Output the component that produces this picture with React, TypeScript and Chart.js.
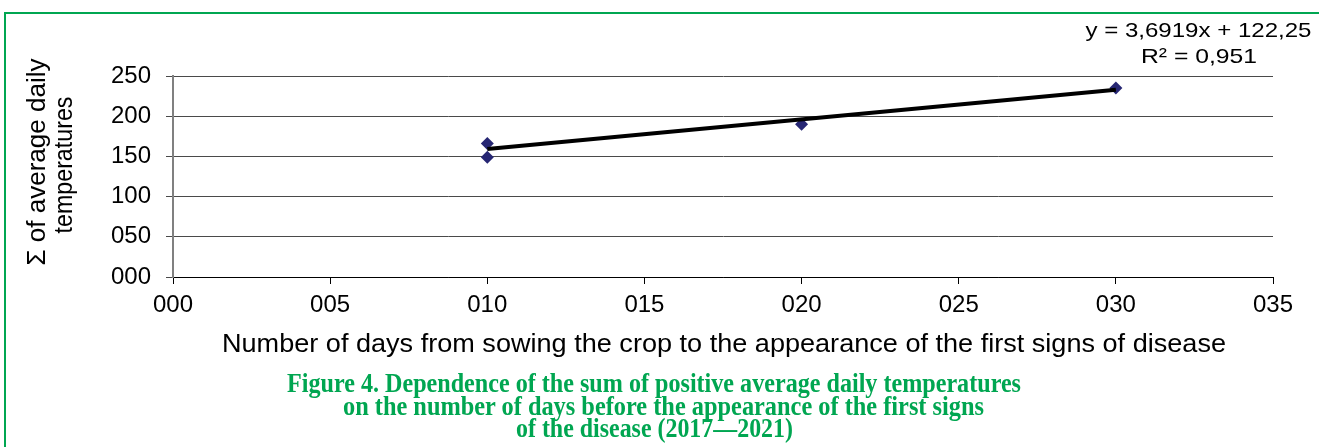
import React, { useEffect, useRef } from "react";
import { Chart, registerables } from "chart.js";

Chart.register(...registerables);

// ---- data ----
const daysX = [10, 10, 20, 30];
const tempSumY = [166, 149, 190, 235];
const trendX = [10, 30];
const trendY = [159.2, 233.0];
const xTickValues = [0, 5, 10, 15, 20, 25, 30, 35];
const xTickLabels = ["000", "005", "010", "015", "020", "025", "030", "035"];
const yTickValues = [0, 50, 100, 150, 200, 250];
const yTickLabels = ["000", "050", "100", "150", "200", "250"];
const equationLines = ["y = 3,6919x + 122,25", "R² = 0,951"];
const yTitleLines = ["Σ of average daily", "temperatures"];
const xTitle =
  "Number of days from sowing the crop to the appearance of the first signs of disease";
const captionLines = [
  "Figure 4. Dependence of the sum of positive average daily temperatures",
  "on the number of days before the appearance of the first signs",
  "of the disease (2017—2021)",
];

const W = 1319;
const H = 447;
const SANS = "'Liberation Sans', Arial, sans-serif";
const SERIF = "'Liberation Serif', 'Times New Roman', serif";
const GREEN = "#00a651";

export default function App() {
  const canvasRef = useRef<HTMLCanvasElement | null>(null);

  useEffect(() => {
    document.body.style.margin = "0";
    const canvas = canvasRef.current;
    if (!canvas) return;
    const chart = new Chart(canvas, {
      type: "scatter",
      data: {
        datasets: [
          {
            type: "line",
            label: "trend",
            data: trendX.map((x, i) => ({ x, y: trendY[i] })),
            borderColor: "#000000",
            borderWidth: 4,
            pointRadius: 0,
            fill: false,
            order: 0,
          },
          {
            type: "scatter",
            label: "data",
            data: daysX.map((x, i) => ({ x, y: tempSumY[i] })),
            pointStyle: "rectRot",
            pointRadius: 6.5,
            backgroundColor: "#262673",
            borderColor: "#262673",
            borderWidth: 0,
            order: 1,
          },
        ],
      },
      options: {
        animation: false,
        responsive: false,
        maintainAspectRatio: false,
        devicePixelRatio: 1,
        layout: { padding: { left: 0, right: 46, top: 76, bottom: 0 } },
        plugins: {
          legend: { display: false },
          tooltip: { enabled: false },
          title: { display: false },
        },
        scales: {
          x: {
            type: "linear",
            min: 0,
            max: 35,
            afterBuildTicks: (scale: any) => {
              scale.ticks = xTickValues.map((v) => ({ value: v }));
            },
            afterFit: (scale: any) => {
              scale.height = H - 277;
            },
            ticks: {
              color: "#000000",
              font: { family: SANS, size: 24 },
              padding: 7,
              maxRotation: 0,
              autoSkip: false,
              callback: (v: any) => {
                const i = xTickValues.indexOf(Number(v));
                return i >= 0 ? xTickLabels[i] : "";
              },
            },
            grid: {
              drawOnChartArea: false,
              drawTicks: true,
              tickLength: 7,
              color: "#000000",
              lineWidth: 1,
            },
            border: { display: true, color: "#000000", width: 1 },
          },
          y: {
            type: "linear",
            min: 0,
            max: 250,
            afterBuildTicks: (scale: any) => {
              scale.ticks = yTickValues.map((v) => ({ value: v }));
            },
            afterFit: (scale: any) => {
              scale.width = 173;
            },
            ticks: {
              color: "#000000",
              font: { family: SANS, size: 24 },
              padding: 15,
              autoSkip: false,
              callback: (v: any) => {
                const i = yTickValues.indexOf(Number(v));
                return i >= 0 ? yTickLabels[i] : "";
              },
            },
            grid: {
              drawOnChartArea: true,
              drawTicks: true,
              tickLength: 7,
              color: "#4a4a4a",
              lineWidth: 1,
            },
            border: { display: true, color: "#808080", width: 2 },
          },
        },
      },
    });
    return () => chart.destroy();
  }, []);

  return (
    <div style={{ position: "relative", width: W, height: H, overflow: "hidden", background: "#ffffff" }}>
      <canvas
        ref={canvasRef}
        width={W}
        height={H}
        style={{ position: "absolute", left: 0, top: 0, width: W, height: H }}
      />
      <div
        style={{
          position: "absolute",
          left: 4,
          top: 12,
          width: W,
          height: H,
          borderTop: `2px solid ${GREEN}`,
          borderLeft: `2px solid ${GREEN}`,
          boxSizing: "border-box",
          pointerEvents: "none",
        }}
      />
      <svg
        width={W}
        height={H}
        style={{ position: "absolute", left: 0, top: 0, pointerEvents: "none" }}
      >
        <text x={1085.5} y={37} fontFamily={SANS} fontSize={21} fill="#000" textLength={226} lengthAdjust="spacingAndGlyphs">
          {equationLines[0]}
        </text>
        <text x={1141} y={63} fontFamily={SANS} fontSize={21} fill="#000" textLength={116} lengthAdjust="spacingAndGlyphs">
          {equationLines[1]}
        </text>
        <text transform="translate(45,162) rotate(-90)" textAnchor="middle" fontFamily={SANS} fontSize={25} fill="#000" textLength={207} lengthAdjust="spacingAndGlyphs">
          {yTitleLines[0]}
        </text>
        <text transform="translate(72,165) rotate(-90)" textAnchor="middle" fontFamily={SANS} fontSize={25} fill="#000" textLength={137} lengthAdjust="spacingAndGlyphs">
          {yTitleLines[1]}
        </text>
        <text x={222} y={352} fontFamily={SANS} fontSize={25} fill="#000" textLength={1004} lengthAdjust="spacingAndGlyphs">
          {xTitle}
        </text>
        <text x={287} y={392} fontFamily={SERIF} fontWeight="bold" fontSize={27} fill={GREEN} textLength={734} lengthAdjust="spacingAndGlyphs">
          {captionLines[0]}
        </text>
        <text x={343} y={414.5} fontFamily={SERIF} fontWeight="bold" fontSize={27} fill={GREEN} textLength={641} lengthAdjust="spacingAndGlyphs">
          {captionLines[1]}
        </text>
        <text x={516} y={437} fontFamily={SERIF} fontWeight="bold" fontSize={27} fill={GREEN} textLength={277} lengthAdjust="spacingAndGlyphs">
          {captionLines[2]}
        </text>
      </svg>
    </div>
  );
}
